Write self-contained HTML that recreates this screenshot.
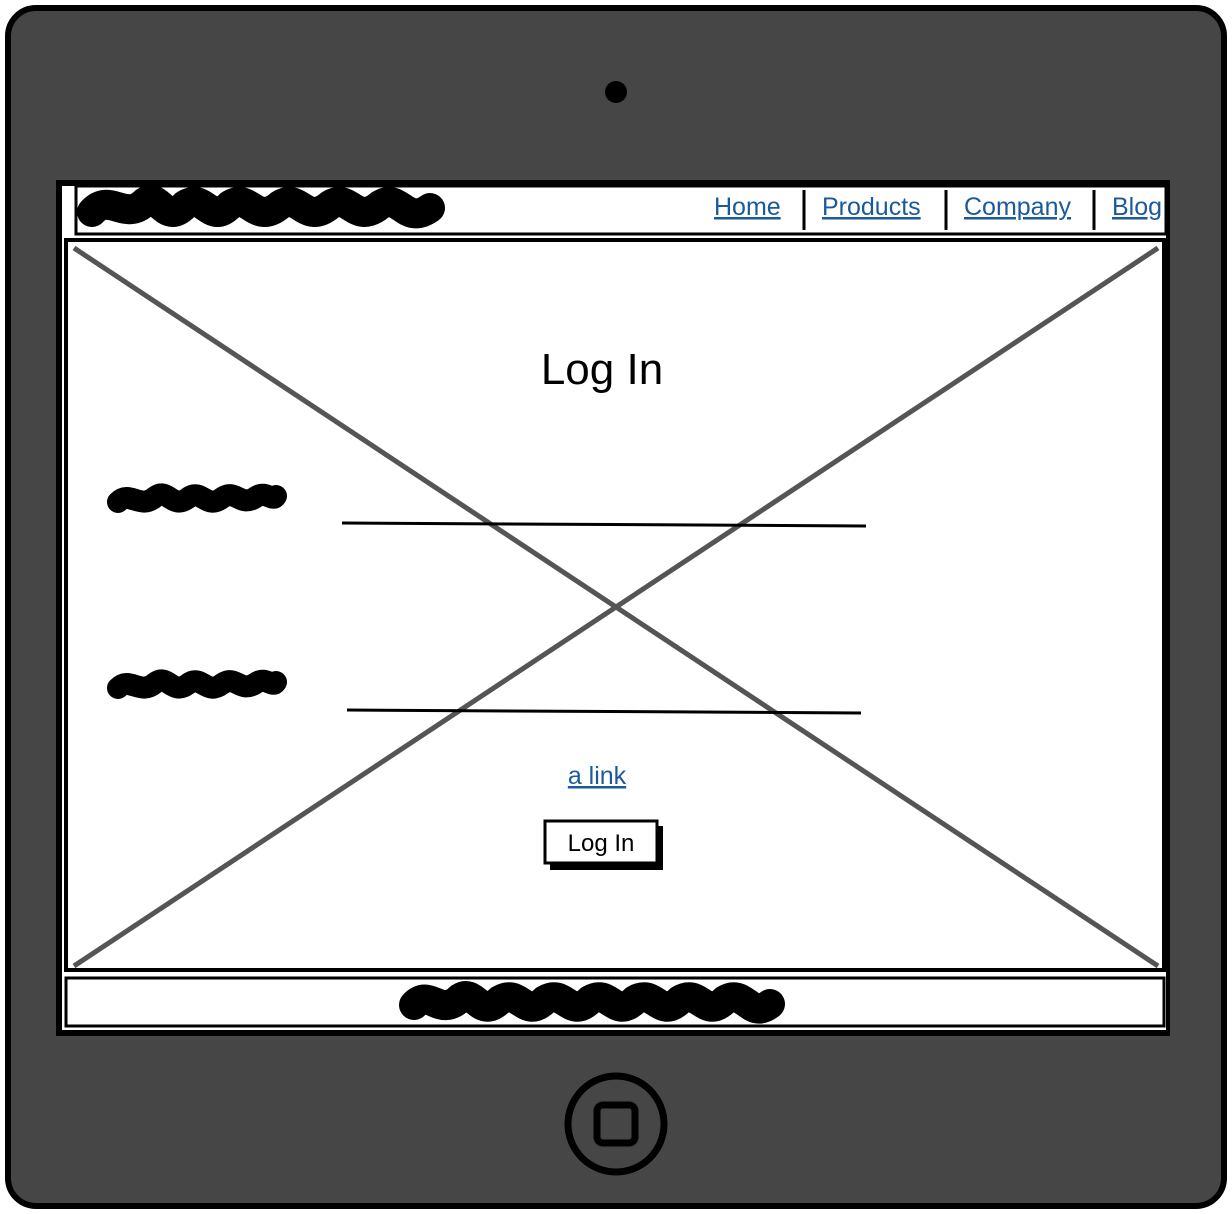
<!DOCTYPE html>
<html><head><meta charset="utf-8"><style>
html,body{margin:0;padding:0;background:#fff;width:1232px;height:1214px;overflow:hidden}
svg{display:block}
text{font-family:"Liberation Sans",sans-serif}
.nav{fill:#1a5a9a;font-size:25px;text-decoration:underline}
</style></head><body>
<svg width="1232" height="1214" viewBox="0 0 1232 1214">
<rect x="8" y="8" width="1216" height="1198" rx="28" fill="#464646" stroke="#000" stroke-width="6"/>
<circle cx="616" cy="92" r="11" fill="#000"/>
<g>
<circle cx="616" cy="1124" r="48" fill="none" stroke="#000" stroke-width="7"/>
<rect x="597" y="1105" width="38" height="38" rx="6" fill="none" stroke="#000" stroke-width="7"/>
</g>
<rect x="56" y="180" width="1114" height="856" fill="#000"/>
<rect x="62" y="186" width="1104" height="844" fill="#fff"/>
<g>
<rect x="76" y="186" width="1090" height="48" fill="#fff" stroke="#000" stroke-width="3"/>
<path d="M92 212 C110 192,125 222,145 202 C160 192,165 226,185 205 C205 192,210 226,230 205 C250 192,255 226,280 205 C300 192,305 226,330 205 C350 192,355 226,380 205 C400 192,405 226,430 208" stroke="#000" stroke-width="30" fill="none" stroke-linecap="round"/>
<text x="714" y="215" class="nav">Home</text>
<line x1="804" y1="190" x2="804" y2="230" stroke="#000" stroke-width="3"/>
<text x="822" y="215" class="nav">Products</text>
<line x1="946" y1="190" x2="946" y2="230" stroke="#000" stroke-width="3"/>
<text x="964" y="215" class="nav">Company</text>
<line x1="1094" y1="190" x2="1094" y2="230" stroke="#000" stroke-width="3"/>
<text x="1112" y="215" class="nav">Blog</text>
</g>
<g>
<rect x="66" y="240" width="1098" height="730" fill="#fff" stroke="#000" stroke-width="4"/>
<line x1="74" y1="248" x2="1158" y2="966" stroke="#555" stroke-width="5"/>
<line x1="1158" y1="248" x2="74" y2="966" stroke="#555" stroke-width="5"/>
</g>
<text x="602" y="384" font-size="44" text-anchor="middle" fill="#000">Log In</text>
<path d="M118 502 C130 490,140 510,155 497 C168 487,172 510,188 498 C202 488,206 510,222 498 C236 488,240 508,256 497 C266 490,272 502,276 496" stroke="#000" stroke-width="22" fill="none" stroke-linecap="round"/>
<path d="M342 523 L866 526" stroke="#000" stroke-width="3" fill="none"/>
<path d="M118 688 C130 676,140 696,155 683 C168 673,172 696,188 684 C202 674,206 696,222 684 C236 674,240 694,256 683 C266 676,272 688,276 682" stroke="#000" stroke-width="22" fill="none" stroke-linecap="round"/>
<path d="M347 710 L861 713" stroke="#000" stroke-width="3" fill="none"/>
<text x="597" y="784" font-size="25" text-anchor="middle" fill="#1a5a9a" text-decoration="underline">a link</text>
<g>
<rect x="550" y="826" width="113" height="44" fill="#000"/>
<rect x="545" y="821" width="112" height="42" fill="#fff" stroke="#000" stroke-width="3"/>
<text x="601" y="851" font-size="24" text-anchor="middle" fill="#000">Log In</text>
</g>
<g>
<rect x="66" y="978" width="1098" height="48" fill="#fff" stroke="#000" stroke-width="3"/>
<path d="M414 1005 C430 988,440 1018,460 998 C475 988,480 1020,500 1000 C520 988,525 1020,545 1000 C565 988,570 1020,590 1000 C610 988,615 1020,635 1000 C655 988,660 1020,680 1000 C700 988,705 1020,725 1000 C745 988,750 1020,770 1004" stroke="#000" stroke-width="30" fill="none" stroke-linecap="round"/>
</g>
</svg>
</body></html>
